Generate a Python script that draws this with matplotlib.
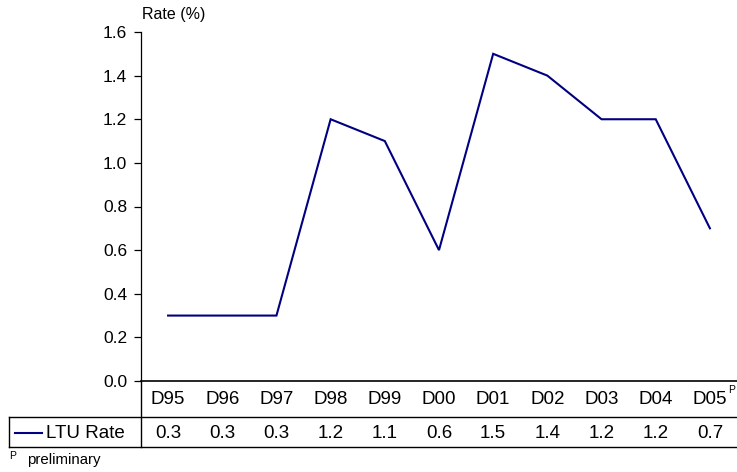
import matplotlib
matplotlib.use("Agg")
import matplotlib.pyplot as plt
from matplotlib.lines import Line2D
import matplotlib.transforms as mtransforms

plt.rcParams['font.family'] = ['Liberation Sans', 'DejaVu Sans']

# LTU rate by year
years = ["D95", "D96", "D97", "D98", "D99", "D00", "D01", "D02", "D03", "D04", "D05"]
ltu_rate = [0.3, 0.3, 0.3, 1.2, 1.1, 0.6, 1.5, 1.4, 1.2, 1.2, 0.7]
yticks = [0.0, 0.2, 0.4, 0.6, 0.8, 1.0, 1.2, 1.4, 1.6]
series_name = "LTU Rate"
preliminary = {"D05"}

W, H = 737, 472
fig = plt.figure(figsize=(W / 100, H / 100), dpi=100)


def fy(py):
    """pixel row (from top) -> figure fraction"""
    return 1 - py / H


def fx(px):
    return px / W


ax_left, ax_bottom, ax_top = 141, 381, 32
ax = fig.add_axes([fx(ax_left), fy(ax_bottom), 1 - fx(ax_left),
                   fy(ax_top) - fy(ax_bottom)])

xs = list(range(len(years)))
ax.plot(xs, ltu_rate, color='#000080', linewidth=1.5, solid_joinstyle='miter')

ax.set_xlim(-0.5, len(years) - 0.5)
ax.set_ylim(0, 1.6)
ax.set_yticks(yticks)
ax.set_yticklabels(["%.1f" % t for t in yticks], fontsize=12.5)
ax.set_xticks([])
ax.tick_params(axis='y', direction='out', length=5, width=0.9, pad=5)
for side in ('top', 'right'):
    ax.spines[side].set_visible(False)
ax.spines['left'].set_linewidth(0.9)
ax.spines['bottom'].set_linewidth(1.2)

fig.text(fx(142), fy(15), "Rate (%)", fontsize=11.5, va='center', ha='left')

# data table under the plot
tsize = 13.5
trans = mtransforms.blended_transform_factory(ax.transData, fig.transFigure)
row1_y, row2_y = fy(400), fy(433)
for x, year, val in zip(xs, years, ltu_rate):
    fig.text(x, row1_y, year, transform=trans, fontsize=tsize,
             ha='center', va='center')
    if year in preliminary:
        fig.text(x + 0.33, fy(390), "P", transform=trans, fontsize=7.5,
                 ha='left', va='center')
    fig.text(x, row2_y, "%.1f" % val, transform=trans, fontsize=tsize,
             ha='center', va='center')

line_kw = dict(color='black', linewidth=1.0, transform=fig.transFigure)
fig.add_artist(Line2D([fx(9), 1], [fy(417), fy(417)], **line_kw))
fig.add_artist(Line2D([fx(9), 1], [fy(447), fy(447)], **line_kw))
fig.add_artist(Line2D([fx(9), fx(9)], [fy(417), fy(447)], **line_kw))
fig.add_artist(Line2D([fx(ax_left), fx(ax_left)], [fy(381), fy(447)], **line_kw))

# legend key inside the table
fig.add_artist(Line2D([fx(15), fx(42)], [fy(433), fy(433)], color='#000080',
                      linewidth=1.5, transform=fig.transFigure))
fig.text(fx(46), row2_y, series_name, fontsize=tsize, ha='left', va='center')

fig.text(fx(9), fy(456), "P", fontsize=7.5, ha='left', va='center')
fig.text(fx(27), fy(460), "preliminary", fontsize=10.8, ha='left', va='center')

fig.savefig("out.png", dpi=100)
